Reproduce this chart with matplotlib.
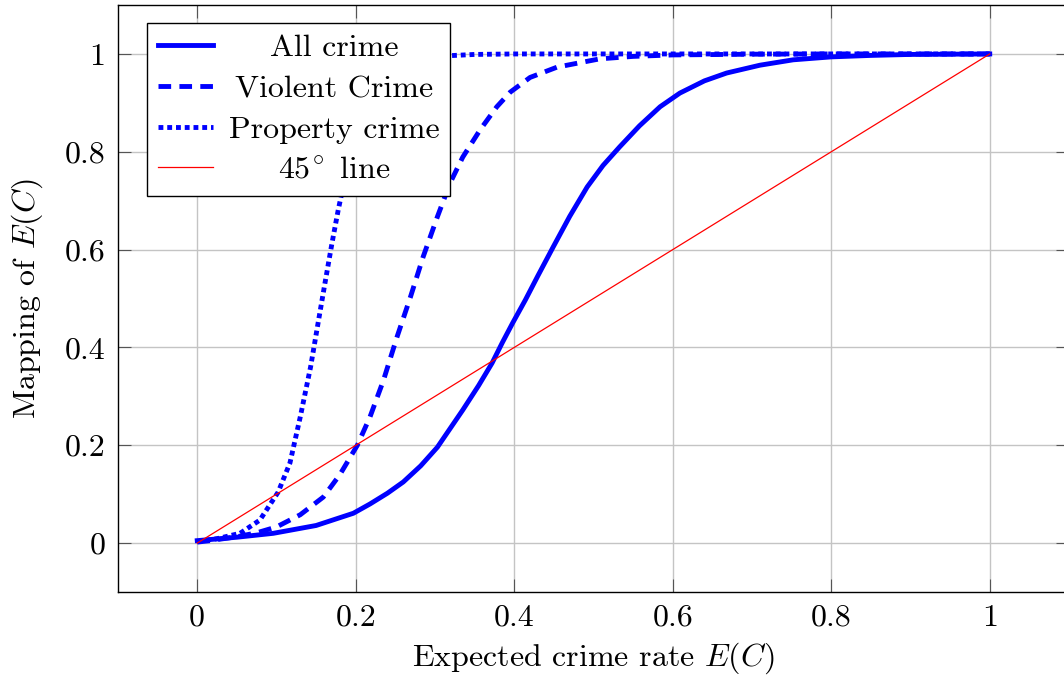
import numpy as np
import matplotlib
matplotlib.use("Agg")
import matplotlib.pyplot as plt
from matplotlib.transforms import Affine2D

# values
x_all = [0, 0.05, 0.096, 0.15, 0.197, 0.218, 0.24, 0.26, 0.282, 0.303, 0.335,
         0.355, 0.372, 0.385, 0.398, 0.414, 0.43, 0.449, 0.47, 0.492, 0.512,
         0.533, 0.558, 0.584, 0.609, 0.64, 0.668, 0.71, 0.752, 0.8, 0.85,
         0.9, 0.95, 1.0]
y_all = [0.005, 0.012, 0.02, 0.036, 0.061, 0.08, 0.102, 0.125, 0.158, 0.196, 0.272,
         0.322, 0.368, 0.41, 0.45, 0.497, 0.547, 0.605, 0.668, 0.728, 0.772,
         0.81, 0.853, 0.892, 0.92, 0.945, 0.961, 0.977, 0.988, 0.994, 0.997,
         0.999, 0.9995, 1.0]

x_violent = [0, 0.016, 0.05, 0.075, 0.10, 0.13, 0.159, 0.18, 0.202, 0.218, 0.235,
             0.252, 0.269, 0.285, 0.303, 0.319, 0.335, 0.357, 0.378, 0.395,
             0.42, 0.454, 0.508, 0.55, 0.6, 0.7, 0.8, 0.9, 1.0]
y_violent = [0.002, 0.005, 0.013, 0.021, 0.033, 0.058, 0.094, 0.14, 0.20, 0.258, 0.333,
             0.421, 0.503, 0.585, 0.667, 0.736, 0.789, 0.845, 0.892, 0.922,
             0.952, 0.973, 0.99, 0.995, 0.998, 0.9995, 1.0, 1.0, 1.0]

x_property = [0, 0.025, 0.054, 0.079, 0.102, 0.117, 0.13, 0.143, 0.151, 0.161,
              0.17, 0.178, 0.185, 0.2, 0.21, 0.225, 0.25, 0.275, 0.3, 0.35,
              0.4, 0.5, 0.6, 0.7, 0.8, 0.9, 1.0]
y_property = [0.003, 0.009, 0.02, 0.047, 0.104, 0.164, 0.258, 0.36, 0.436, 0.53,
              0.613, 0.682, 0.735, 0.82, 0.87, 0.925, 0.97, 0.988, 0.995, 0.999,
              1.0, 1.0, 1.0, 1.0, 1.0, 1.0, 1.0]

x_diag = [0, 1]
y_diag = [0, 1]

ticks = [0, 0.2, 0.4, 0.6, 0.8, 1]
tick_labels = ["0", "0.2", "0.4", "0.6", "0.8", "1"]

plt.rcParams["font.family"] = "serif"
plt.rcParams["font.serif"] = ["cmr10"]
plt.rcParams["mathtext.fontset"] = "cm"
plt.rcParams["axes.formatter.use_mathtext"] = True

fig = plt.figure(figsize=(10.64, 6.8), dpi=100)
ax = fig.add_axes([0.1109, 0.1294, 0.8938, 0.8632])

fs = 23
ax.plot(x_all, y_all, color="blue", lw=3.5, label="All crime",
        solid_joinstyle="round")
ax.plot(x_violent, y_violent, color="blue", lw=3.5, dashes=(2.6, 1.7),
        label="Violent Crime")
ax.plot(x_property, y_property, color="blue", lw=3.5, dashes=(1.0, 0.8),
        label="Property crime")
ax.plot(x_diag, y_diag, color="red", lw=0.9, label=r"$45^{\!\circ}$ line")

ax.set_xlim(-0.1, 1.1)
ax.set_ylim(-0.1, 1.1)
ax.set_xticks(ticks)
ax.set_xticklabels(tick_labels)
ax.set_yticks(ticks)
ax.set_yticklabels(tick_labels)
ax.tick_params(direction="in", length=9.5, width=0.8, color="#555555",
               top=True, right=True, labelsize=fs, pad=9)
ax.grid(True, color="#c4c4c4", lw=1.0)
ax.set_axisbelow(True)
for s in ax.spines.values():
    s.set_linewidth(1.0)
    s.set_color("black")

ax.set_xlabel(r"Expected crime rate $E(C)$", fontsize=fs, labelpad=6)
ax.set_ylabel(r"Mapping of $E(C)$", fontsize=fs, labelpad=14)

leg = ax.legend(loc="upper left", bbox_to_anchor=(0.03, 0.97), borderaxespad=0,
                fontsize=fs, frameon=True, fancybox=False, framealpha=1,
                edgecolor="black", handlelength=1.72, handletextpad=0.5,
                labelspacing=0.39, borderpad=0.35)
leg.get_frame().set_linewidth(1.0)

# center legend texts like pgfplots does
fig.canvas.draw()
r = fig.canvas.get_renderer()
texts = leg.get_texts()
ws = [t.get_window_extent(r).width for t in texts]
for t, w in zip(texts, ws):
    t.set_transform(t.get_transform() + Affine2D().translate((max(ws) - w) / 2, 0))

plt.savefig("out.png", dpi=100)
plt.close()
